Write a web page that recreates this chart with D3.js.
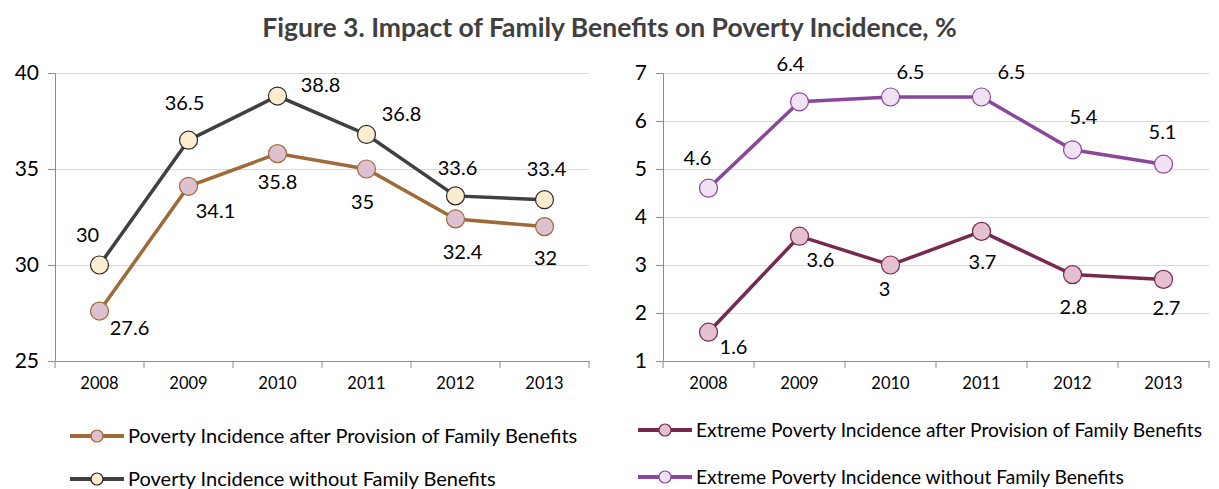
<!DOCTYPE html>
<html>
<head>
<meta charset="utf-8">
<script src="https://cdn.jsdelivr.net/npm/d3@7"></script>
<style>
  body { margin: 0; background: #fff; }
  text { font-family: Lato, "Open Sans", sans-serif; fill: #000; }
  .axis path, .axis line { stroke: #8c8c8c; }
  .grid line { stroke: #d9d9d9; }
  .grid path { display: none; }
</style>
</head>
<body>
<script>
// data
var years = ['2008', '2009', '2010', '2011', '2012', '2013'];

var povertyAfter = [27.6, 34.1, 35.8, 35, 32.4, 32];
var povertyWithout = [30, 36.5, 38.8, 36.8, 33.6, 33.4];
var extremeAfter = [1.6, 3.6, 3, 3.7, 2.8, 2.7];
var extremeWithout = [4.6, 6.4, 6.5, 6.5, 5.4, 5.1];

var leftTicks = [25, 30, 35, 40];
var rightTicks = [1, 2, 3, 4, 5, 6, 7];

var seriesNames = [
  'Poverty Incidence after Provision of Family Benefits',
  'Poverty Incidence without Family Benefits',
  'Extreme Poverty Incidence after Provision of Family Benefits',
  'Extreme Poverty Incidence without Family Benefits'
];

// label offsets from the marker (dx, dy)
var offPovAfter = [[30, 17], [27, 25], [0, 28], [-4, 33], [7, 33], [1, 31]];
var offPovWithout = [[-12, -30], [-4, -37], [43, -11], [35, -20], [2, -28], [2, -31]];
var offExtAfter = [[25, 15], [21, 24], [-6, 24], [1, 31], [1, 32], [3, 29]];
var offExtWithout = [[-11, -30], [-9, -38], [20, -25], [30, -25], [11, -33], [-1, -32]];

var W = 1219, H = 489;
var plotTop = 73, plotBottom = 361;

var svg = d3.select('body').append('svg')
    .attr('width', W)
    .attr('height', H);

svg.append('text')
    .text('Figure 3. Impact of Family Benefits on Poverty Incidence, %')
    .attr('x', W / 2)
    .attr('y', 37)
    .attr('text-anchor', 'middle')
    .style('font-size', '26.5px')
    .style('font-weight', 'bold')
    .style('fill', '#404040');

function drawPanel(x0, x1, domain, ticks, series) {
  var x = d3.scaleBand().domain(years).range([x0, x1]);
  var y = d3.scaleLinear().domain(domain).range([plotBottom, plotTop]);
  var g = svg.append('g');

  g.append('g')
      .attr('class', 'grid')
      .attr('transform', 'translate(' + x0 + ',0)')
    .call(d3.axisLeft(y).tickValues(ticks).tickSize(-(x1 - x0)).tickFormat(''));

  g.append('g')
      .attr('class', 'axis')
      .attr('transform', 'translate(' + x0 + ',0)')
    .call(d3.axisLeft(y).tickValues(ticks).tickFormat(d3.format('d'))
      .tickSize(7).tickSizeOuter(0).tickPadding(9))
    .selectAll('text').style('font-size', '21px');

  var xa = g.append('g')
      .attr('class', 'axis')
      .attr('transform', 'translate(0,' + plotBottom + ')')
    .call(d3.axisBottom(x).tickSize(0).tickSizeOuter(0).tickPadding(16));
  xa.selectAll('text').style('font-size', '16.5px');
  // tick marks on the category boundaries
  xa.selectAll('.bound')
    .data(years.concat(['end']))
    .enter().append('line')
      .attr('class', 'bound')
      .attr('x1', function(d) { return d === 'end' ? x1 : x(d); })
      .attr('x2', function(d) { return d === 'end' ? x1 : x(d); })
      .attr('y1', 0)
      .attr('y2', 7)
      .style('stroke', '#8c8c8c');

  var cx = function(d, i) { return x(years[i]) + x.bandwidth() / 2; };
  var line = d3.line().x(cx).y(function(d) { return y(d); });

  series.forEach(function(s) {
    g.append('path')
        .datum(s.values)
        .attr('d', line)
        .attr('fill', 'none')
        .attr('stroke', s.line)
        .attr('stroke-width', 3.5);

    g.selectAll(null)
        .data(s.values)
        .enter().append('circle')
          .attr('cx', cx)
          .attr('cy', function(d) { return y(d); })
          .attr('r', 9)
          .attr('fill', s.fill)
          .attr('stroke', s.stroke)
          .attr('stroke-width', 1.2);

    g.selectAll(null)
        .data(s.values)
        .enter().append('text')
          .text(function(d) { return d; })
          .attr('x', function(d, i) { return cx(d, i) + s.off[i][0]; })
          .attr('y', function(d, i) { return y(d) + s.off[i][1]; })
          .attr('text-anchor', 'middle')
          .attr('dy', '0.35em')
          .style('font-size', '20px');
  });
}

var cPovAfter = { line: '#9e6a38', fill: '#dfc0d0', stroke: '#9e6a38' };
var cPovWithout = { line: '#404040', fill: '#fcecd0', stroke: '#2a2a2a' };
var cExtAfter = { line: '#772a50', fill: '#e5c0d2', stroke: '#772a50' };
var cExtWithout = { line: '#8a479b', fill: '#f0e2f4', stroke: '#8a479b' };

drawPanel(55, 589, [25, 40], leftTicks, [
  Object.assign({ values: povertyWithout, off: offPovWithout }, cPovWithout),
  Object.assign({ values: povertyAfter, off: offPovAfter }, cPovAfter)
]);

drawPanel(663, 1209, [1, 7], rightTicks, [
  Object.assign({ values: extremeWithout, off: offExtWithout }, cExtWithout),
  Object.assign({ values: extremeAfter, off: offExtAfter }, cExtAfter)
]);

// legend
var legend = [
  { name: seriesNames[0], x: 70, y: 436, fs: 20, c: cPovAfter },
  { name: seriesNames[1], x: 70, y: 479, fs: 20, c: cPovWithout },
  { name: seriesNames[2], x: 638, y: 430, fs: 19.2, c: cExtAfter },
  { name: seriesNames[3], x: 638, y: 477, fs: 19.2, c: cExtWithout }
];

var lg = svg.selectAll('.legend')
    .data(legend)
    .enter().append('g')
      .attr('class', 'legend')
      .attr('transform', function(d) { return 'translate(' + d.x + ',' + d.y + ')'; });

lg.append('line')
    .attr('x1', 0).attr('x2', 54)
    .attr('stroke', function(d) { return d.c.line; })
    .attr('stroke-width', 4);
lg.append('circle')
    .attr('cx', 27)
    .attr('r', 6)
    .attr('fill', function(d) { return d.c.fill; })
    .attr('stroke', function(d) { return d.c.stroke; })
    .attr('stroke-width', 1.2);
lg.append('text')
    .text(function(d) { return d.name; })
    .attr('x', 58)
    .attr('dy', '0.35em')
    .style('font-size', function(d) { return d.fs + 'px'; });
</script>
</body>
</html>
